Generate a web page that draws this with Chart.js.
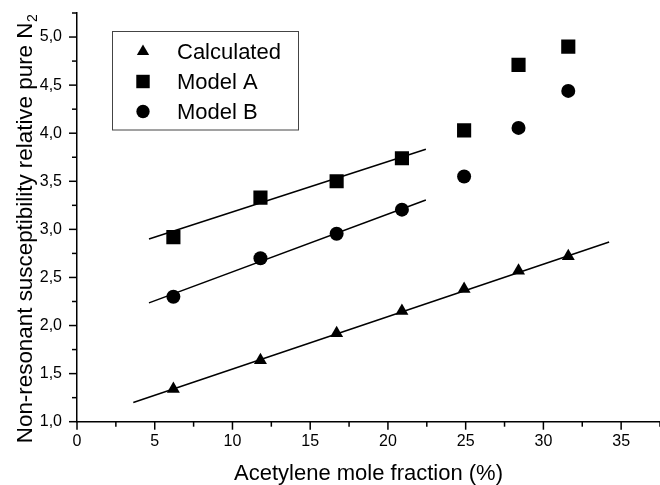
<!DOCTYPE html>
<html>
<head>
<meta charset="utf-8">
<script src="https://cdn.jsdelivr.net/npm/chart.js@4/dist/chart.umd.min.js"></script>
<style>
  html, body { margin: 0; padding: 0; background: #fff; }
  #wrap { width: 660px; height: 485px; }
</style>
</head>
<body>
<div id="wrap"><canvas id="c" width="660" height="485"></canvas></div>
<script>
// ---- Data ----
const fraction = [6.2, 11.8, 16.7, 20.9, 24.9, 28.4, 31.6];        // acetylene mole fraction (%)
const calculated = [1.34, 1.64, 1.92, 2.15, 2.38, 2.57, 2.72];
const modelA = [2.92, 3.33, 3.50, 3.74, 4.03, 4.71, 4.90];
const modelB = [2.30, 2.70, 2.955, 3.205, 3.55, 4.055, 4.44];
// linear fit lines (end points)
const fitCalcX = [3.62, 34.23];
const fitCalcY = [1.20, 2.868];
const fitAX = [4.63, 22.44];
const fitAY = [2.90, 3.833];
const fitBX = [4.63, 22.44];
const fitBY = [2.236, 3.305];
// axis ticks
const xTickMajor = [0, 5, 10, 15, 20, 25, 30, 35];
const yTickMajor = [1.0, 1.5, 2.0, 2.5, 3.0, 3.5, 4.0, 4.5, 5.0];
const seriesLabels = ['Calculated', 'Model A', 'Model B'];
const xTitle = 'Acetylene mole fraction (%)';
const yTitleMain = 'Non-resonant susceptibility relative pure N';
const yTitleSub = '2';

const FONT = '"Liberation Sans", Arial, Helvetica, sans-serif';

function pts(xs, ys) { return xs.map((x, i) => ({ x: x, y: ys[i] })); }

const datasets = [
  { label: seriesLabels[0], data: pts(fraction, calculated), pointStyle: 'triangle', pointRadius: 7.5, backgroundColor: '#000', borderWidth: 0, showLine: false, isMarker: true },
  { label: seriesLabels[1], data: pts(fraction, modelA), pointStyle: 'rect', pointRadius: 10, backgroundColor: '#000', borderWidth: 0, showLine: false, isMarker: true },
  { label: seriesLabels[2], data: pts(fraction, modelB), pointStyle: 'circle', pointRadius: 7, backgroundColor: '#000', borderWidth: 0, showLine: false, isMarker: true },
  { label: 'fit Calculated', data: pts(fitCalcX, fitCalcY), showLine: true, pointRadius: 0, borderColor: '#000', borderWidth: 1.5, fill: false },
  { label: 'fit Model A', data: pts(fitAX, fitAY), showLine: true, pointRadius: 0, borderColor: '#000', borderWidth: 1.5, fill: false },
  { label: 'fit Model B', data: pts(fitBX, fitBY), showLine: true, pointRadius: 0, borderColor: '#000', borderWidth: 1.5, fill: false }
];

// Ticks: major (labelled) and minor, drawn outward
const tickPlugin = {
  id: 'ticks',
  afterDraw(chart) {
    const ctx = chart.ctx;
    const xs = chart.scales.x, ys = chart.scales.y;
    ctx.save();
    ctx.strokeStyle = '#000';
    ctx.lineWidth = 1.5;
    const yAxis = xs.top;
    xs.ticks.forEach(t => {
      const major = xTickMajor.some(v => Math.abs(v - t.value) < 1e-6);
      const px = xs.getPixelForValue(t.value);
      ctx.beginPath();
      ctx.moveTo(px, yAxis);
      ctx.lineTo(px, yAxis + (major ? 8 : 5));
      ctx.stroke();
    });
    const xAxis = ys.right;
    ys.ticks.forEach(t => {
      const major = yTickMajor.some(v => Math.abs(v - t.value) < 1e-6);
      const py = ys.getPixelForValue(t.value);
      ctx.beginPath();
      ctx.moveTo(xAxis, py);
      ctx.lineTo(xAxis - (major ? 8 : 5), py);
      ctx.stroke();
    });
    ctx.restore();
  }
};

// Y axis title with a real subscript
const yTitlePlugin = {
  id: 'yTitle',
  afterDraw(chart) {
    const ctx = chart.ctx;
    ctx.save();
    ctx.fillStyle = '#000';
    ctx.font = '22.4px ' + FONT;
    const mainW = ctx.measureText(yTitleMain).width;
    ctx.font = '14px ' + FONT;
    const subW = ctx.measureText(yTitleSub).width;
    const total = mainW + subW;
    ctx.translate(32, 229);
    ctx.rotate(-Math.PI / 2);
    ctx.textAlign = 'left';
    ctx.textBaseline = 'alphabetic';
    ctx.font = '22.4px ' + FONT;
    ctx.fillText(yTitleMain, -total / 2, 0);
    ctx.font = '14px ' + FONT;
    ctx.fillText(yTitleSub, -total / 2 + mainW + 0.5, 5);
    ctx.restore();
  }
};

// Boxed legend inside the plot
const legendPlugin = {
  id: 'boxLegend',
  afterDraw(chart) {
    const ctx = chart.ctx;
    const markers = chart.data.datasets.filter(d => d.isMarker);
    ctx.save();
    ctx.strokeStyle = '#444';
    ctx.lineWidth = 1;
    ctx.strokeRect(112.5, 31.5, 186, 98.5);
    ctx.font = '22px ' + FONT;
    ctx.textAlign = 'left';
    ctx.textBaseline = 'middle';
    markers.forEach((d, i) => {
      const y = 51.5 + i * 30;
      ctx.fillStyle = '#000';
      Chart.helpers.drawPoint(ctx, { pointStyle: d.pointStyle, radius: d.pointRadius * 0.95, rotation: 0, borderWidth: 0 }, 143, y);
      ctx.fillStyle = '#000';
      ctx.fillText(d.label, 177, y + 1);
    });
    ctx.restore();
  }
};

new Chart(document.getElementById('c'), {
  type: 'scatter',
  data: { datasets: datasets },
  options: {
    responsive: false,
    animation: false,
    layout: { autoPadding: false, padding: { top: 13, right: 0, bottom: 0, left: 0 } },
    plugins: { legend: { display: false }, tooltip: { enabled: false } },
    scales: {
      x: {
        type: 'linear',
        min: 0, max: 37.5,
        afterFit(s) { s.height = 63.3; },
        ticks: {
          stepSize: 2.5, autoSkip: false, maxRotation: 0, includeBounds: false,
          padding: 0, color: '#000',
          font: { family: FONT, size: 16 },
          callback: v => (xTickMajor.some(m => Math.abs(m - v) < 1e-6) ? String(v) : '')
        },
        grid: { display: true, drawOnChartArea: false, drawTicks: true, tickLength: 10, tickColor: 'rgba(0,0,0,0)' },
        border: { display: true, color: '#000', width: 1.5 },
        title: { display: true, text: xTitle, color: '#000', font: { family: FONT, size: 22, lineHeight: 1.0 }, padding: { top: 0, bottom: 0 } }
      },
      y: {
        type: 'linear',
        min: 1, max: 5.25,
        afterFit(s) { s.width = 77; },
        ticks: {
          stepSize: 0.25, autoSkip: false, includeBounds: false,
          padding: 0, color: '#000',
          font: { family: FONT, size: 16 },
          callback: v => (yTickMajor.some(m => Math.abs(m - v) < 1e-6) ? v.toFixed(1).replace('.', ',') : '')
        },
        grid: { display: true, drawOnChartArea: false, drawTicks: true, tickLength: 15, tickColor: 'rgba(0,0,0,0)' },
        border: { display: true, color: '#000', width: 1.5 },
        title: { display: false }
      }
    }
  },
  plugins: [tickPlugin, yTitlePlugin, legendPlugin]
});
</script>
</body>
</html>
